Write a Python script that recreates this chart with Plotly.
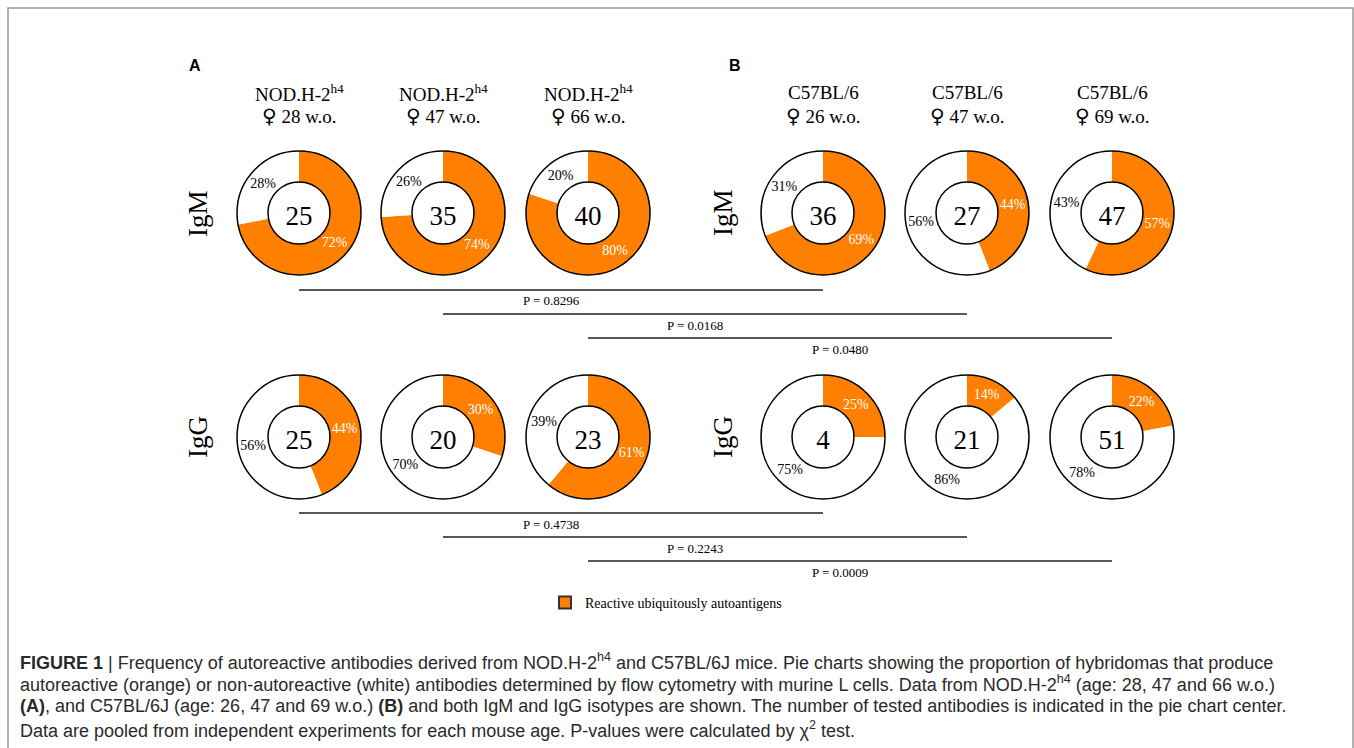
import plotly.graph_objects as go

# Strains / ages shown as column headings
strains = ["NOD.H-2<sup>h4</sup>"] * 3 + ["C57BL/6"] * 3
ages = ["28 w.o.", "47 w.o.", "66 w.o.", "26 w.o.", "47 w.o.", "69 w.o."]

# Percent of reactive / non-reactive hybridomas per isotype
igm_reactive = [72, 74, 80, 69, 44, 57]
igm_nonreactive = [28, 26, 20, 31, 56, 43]
igg_reactive = [44, 30, 61, 25, 14, 22]
igg_nonreactive = [56, 70, 39, 75, 86, 78]

# Number of antibodies tested (pie centre)
igm_counts = [25, 35, 40, 36, 27, 47]
igg_counts = [25, 20, 23, 4, 21, 51]

# Chi-square p-values between matching ages of the two strains
igm_pvalues = ["0.8296", "0.0168", "0.0480"]
igg_pvalues = ["0.4738", "0.2243", "0.0009"]

W, H = 1354, 748
ORANGE = "#ff8000"
SERIF = "Liberation Serif, Times New Roman, serif"
SANS = "Liberation Sans, Arial, sans-serif"

col_x = [299, 443, 588, 823, 967, 1112]   # pie centres, px
row_y = [213, 437]
R = 62                                      # outer radius, px
HOLE = 0.5


def px(x):
    return x / W


def py(y):
    return 1 - y / H


fig = go.Figure()
shapes = []

rows = [
    (igm_reactive, igm_nonreactive, igm_counts),
    (igg_reactive, igg_nonreactive, igg_counts),
]
for r, (reac, nonr, counts) in enumerate(rows):
    cy = row_y[r]
    for c in range(6):
        cx = col_x[c]
        dom = dict(x=[px(cx - R), px(cx + R)], y=[py(cy + R), py(cy - R)])
        fig.add_trace(go.Pie(
            values=[reac[c], nonr[c]],
            labels=["Reactive", "Non-reactive"],
            domain=dom, hole=HOLE, sort=False, direction="clockwise",
            marker=dict(colors=[ORANGE, "white"], line=dict(width=0)),
            texttemplate="%{value}%", textposition="inside",
            insidetextorientation="horizontal",
            textfont=dict(family=SERIF, size=14, color=["white", "black"]),
            title=dict(text=str(counts[c]), position="middle center",
                       font=dict(family=SERIF, size=27, color="black")),
            showlegend=False, hoverinfo="label+value",
        ))
        # ring outline: outer and inner circles
        for rad in (R, R * HOLE):
            shapes.append(dict(type="circle", xref="paper", yref="paper",
                               x0=px(cx - rad), x1=px(cx + rad),
                               y0=py(cy + rad), y1=py(cy - rad),
                               line=dict(color="black", width=1.5)))

# legend entry
fig.add_trace(go.Scatter(
    x=[None], y=[None], mode="markers", name="Reactive ubiquitously autoantigens",
    marker=dict(symbol="square", size=10, color=ORANGE, line=dict(color="#333", width=1)),
))

ann = []
# panel letters
ann.append(dict(x=px(195), y=py(65), text="<b>A</b>", font=dict(family=SANS, size=16)))
ann.append(dict(x=px(735), y=py(65), text="<b>B</b>", font=dict(family=SANS, size=16)))
# column headings
for c in range(6):
    ann.append(dict(x=px(col_x[c]), y=py(93), text=strains[c],
                    font=dict(family=SERIF, size=19)))
    ann.append(dict(x=px(col_x[c]), y=py(116),
                    text=f"<span style='font-family:DejaVu Serif;font-size:20px'>\u2640</span> {ages[c]}",
                    font=dict(family=SERIF, size=19)))
# isotype labels
for r, iso in enumerate(["IgM", "IgG"]):
    for lx in (198, 723):
        ann.append(dict(x=px(lx), y=py(row_y[r]), text=iso, textangle=-90,
                        font=dict(family=SERIF, size=27)))

# comparison bars with p-values
line_rows = [(igm_pvalues, 290), (igg_pvalues, 513)]
for pvals, y0 in line_rows:
    for k in range(3):
        ly = y0 + 24 * k
        x0, x1 = col_x[k], col_x[k + 3]
        shapes.append(dict(type="line", xref="paper", yref="paper",
                           x0=px(x0), x1=px(x1), y0=py(ly), y1=py(ly),
                           line=dict(color="#222", width=1.6)))
        ann.append(dict(x=px((x0 + x1) / 2 - 10), y=py(ly + 11),
                        text=f"P = {pvals[k]}",
                        font=dict(family=SERIF, size=13)))

# figure frame
shapes.append(dict(type="rect", xref="paper", yref="paper",
                   x0=px(8), x1=px(1353), y0=py(8), y1=py(760),
                   line=dict(color="#999", width=1.5)))

# caption
caption = [
    "<b>FIGURE 1</b> | Frequency of autoreactive antibodies derived from NOD.H-2<sup>h4</sup> and C57BL/6J mice. "
    "Pie charts showing the proportion of hybridomas that produce",
    "autoreactive (orange) or non-autoreactive (white) antibodies determined by flow cytometry with murine L cells. "
    "Data from NOD.H-2<sup>h4</sup> (age: 28, 47 and 66 w.o.)",
    "<b>(A)</b>, and C57BL/6J (age: 26, 47 and 69 w.o.) <b>(B)</b> and both IgM and IgG isotypes are shown. "
    "The number of tested antibodies is indicated in the pie chart center.",
    "Data are pooled from independent experiments for each mouse age. P-values were calculated by \u03c7<sup>2</sup> test.",
]
for i, line in enumerate(caption):
    ann.append(dict(x=px(18), y=py(661 + 22.7 * i), text=line, xanchor="left",
                    font=dict(family=SANS, size=18, color="#2a2a2a")))

for a in ann:
    a.setdefault("xref", "paper")
    a.setdefault("yref", "paper")
    a.setdefault("showarrow", False)
    a.setdefault("xanchor", "center")
    a.setdefault("yanchor", "middle")
    a["font"].setdefault("color", "black")

fig.update_layout(
    width=W, height=H, margin=dict(l=0, r=0, t=0, b=0),
    paper_bgcolor="white", plot_bgcolor="white",
    xaxis=dict(visible=False), yaxis=dict(visible=False),
    showlegend=True,
    legend=dict(x=px(545), y=py(603), xanchor="left", yanchor="middle",
                font=dict(family=SERIF, size=14, color="black"),
                bgcolor="rgba(0,0,0,0)", itemsizing="constant"),
    annotations=ann, shapes=shapes,
)

fig.write_html("out.html")
